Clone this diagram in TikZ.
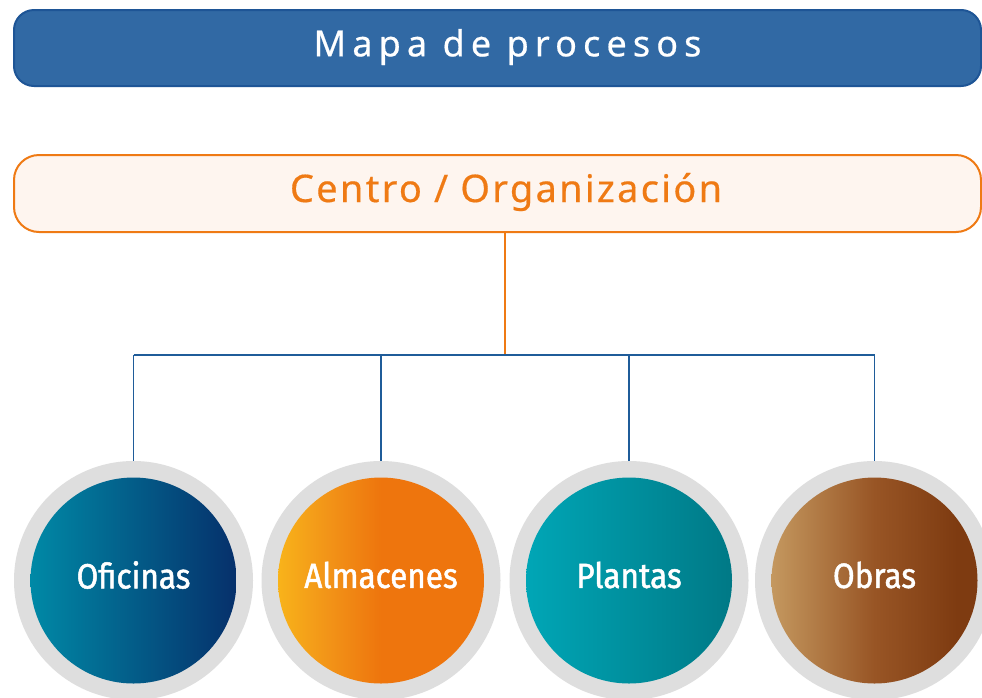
\documentclass[tikz,border=0pt]{standalone}
\usepackage{fontspec}
\setmainfont{Noto Sans}
\newfontfamily\titlefont[LetterSpace=17,FakeBold=0.5]{Noto Sans}
\newfontfamily\centrofont[LetterSpace=6,FakeBold=0.4]{Noto Sans}
\newfontfamily\circfont[FakeStretch=0.9,FakeBold=1.4]{Fira Sans}
\definecolor{barblue}{HTML}{3169A4}
\definecolor{barborder}{HTML}{1E5596}
\definecolor{orangeline}{HTML}{EF7A14}
\definecolor{orangefill}{HTML}{FEF5EF}
\definecolor{linkblue}{HTML}{1F5C99}
\definecolor{ringgray}{HTML}{DEDEDE}
\definecolor{ofiA}{HTML}{0089A6}
\definecolor{ofiB}{HTML}{06306B}
\definecolor{almA}{HTML}{F8B31A}
\definecolor{almM}{HTML}{F29418}
\definecolor{almB}{HTML}{EE750D}
\definecolor{plaA}{HTML}{00A6B6}
\definecolor{plaB}{HTML}{007986}
\definecolor{obrA}{HTML}{C4985F}
\definecolor{obrM}{HTML}{985525}
\definecolor{obrB}{HTML}{7E3B11}
\pgfdeclarehorizontalshading{almshade}{100bp}{color(0bp)=(almA); color(25bp)=(almA); color(37bp)=(almM); color(50bp)=(almB); color(100bp)=(almB)}
\pgfdeclarehorizontalshading{obrshade}{100bp}{color(0bp)=(obrA); color(25bp)=(obrA); color(50bp)=(obrM); color(70bp)=(obrB); color(100bp)=(obrB)}
\tikzset{
  titlebox/.style={draw=barborder, line width=2pt, fill=barblue, rounded corners=20pt,
    minimum width=967pt, minimum height=76pt, inner sep=0pt},
  centrobox/.style={draw=orangeline, line width=2pt, fill=orangefill, rounded corners=25pt,
    minimum width=967pt, minimum height=77pt, inner sep=0pt},
  ring/.style={circle, fill=ringgray, minimum size=239pt, inner sep=0pt},
  disc/.style={circle, minimum size=205pt, inner sep=0pt, text=white,
    font=\circfont\fontsize{35}{40}\selectfont},
  drop/.style={draw=linkblue, line width=1.1pt},
}
\begin{document}
\begin{tikzpicture}[x=1pt,y=-1pt]
\useasboundingbox (0,0) rectangle (982,697);
\clip (0,0) rectangle (982,697);
\fill[white] (0,0) rectangle (982,697);
% title
\node[titlebox] (title) at (497.5,48) {};
\node[text=white, font=\titlefont\fontsize{36}{40}\selectfont, anchor=center] (titletext) at (507.5,47) {Mapa de procesos};
% centro
\node[centrobox] (centro) at (497.5,193.5) {};
\node[text=orangeline, font=\centrofont\fontsize{38}{42}\selectfont] (centrotext) at (506,192) {Centro / Organización};
% junction
\coordinate (j) at (505,355);
% circles
\node[ring] (r1) at (133.5,580.5) {};
\node[ring] (r2) at (381,580.5) {};
\node[ring] (r3) at (629,580.5) {};
\node[ring] (r4) at (874.5,580.5) {};
\shade[left color=ofiA, right color=ofiB] (133.5,580.5) circle (103);
\shade[shading=almshade] (381,580.5) circle (103);
\shade[left color=plaA, right color=plaB] (629,580.5) circle (103);
\shade[shading=obrshade] (874.5,580.5) circle (103);
\node[disc] (c1) at (133.5,575) {Oficinas};
\node[disc] (c2) at (381,575) {Almacenes};
\node[disc] (c3) at (629,575) {Plantas};
\node[disc] (c4) at (874.5,575) {Obras};
% connectors
\draw[draw=orangeline, line width=1.3pt] (centro.south -| j) -- (j);
\draw[drop] (r1.north) -- (r1.north |- j);
\draw[drop] (r2.north) -- (r2.north |- j);
\draw[drop] (r3.north) -- (r3.north |- j);
\draw[drop] (r4.north) -- (r4.north |- j);
\draw[draw=linkblue, line width=2.8pt] (r1.north |- j) -- (r4.north |- j);
\end{tikzpicture}
\end{document}
